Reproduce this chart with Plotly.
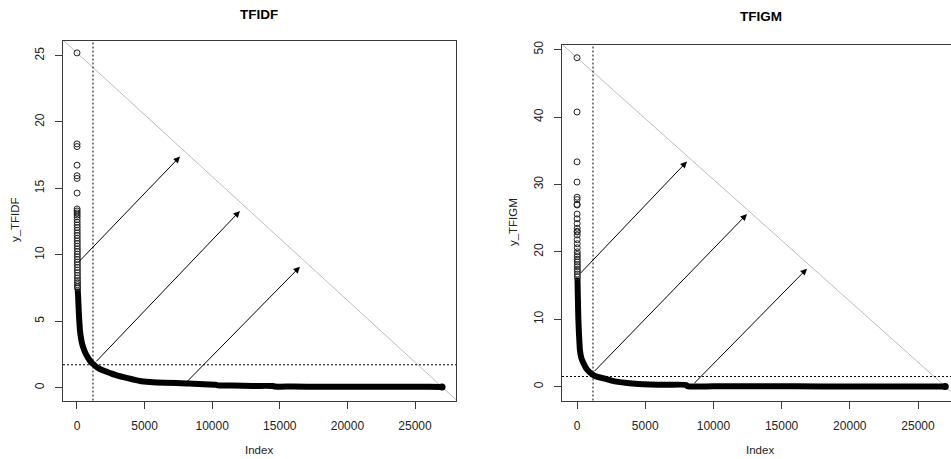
import plotly.graph_objects as go

W, H = 951, 459

# ---------------- data ----------------
# TFIDF: sorted weights, isolated top values (index, value)
tfidf_head_idx = list(range(1, 41))
tfidf_head_val = [25.2, 18.35, 18.15, 16.75, 15.95, 15.75, 14.65, 13.45, 13.3, 13.15,
                  13.0, 12.85, 12.65, 12.45, 12.25, 12.05, 11.85, 11.65, 11.45, 11.25,
                  11.05, 10.85, 10.65, 10.45, 10.25, 10.05, 9.85, 9.65, 9.45, 9.25,
                  9.05, 8.85, 8.65, 8.45, 8.25, 8.05, 7.9, 7.75, 7.6, 7.5]
tfidf_body_idx = [50, 70, 90, 120, 160, 220, 300, 380, 470, 620, 810, 1000, 1200, 1500,
                  1900, 2440, 3000, 3600, 4660, 5400, 6500, 8130, 9000, 10300, 10400,
                  11500, 13000, 14500, 14600, 16000, 18000, 20000, 22000, 24000, 26000, 27000]
tfidf_body_val = [7.45, 7.1, 6.7, 6.0, 5.2, 4.3, 3.7, 3.3, 3.0, 2.6, 2.26, 1.97, 1.77, 1.52,
                  1.3, 1.1, 0.9, 0.75, 0.5, 0.43, 0.37, 0.32, 0.27, 0.21, 0.17,
                  0.16, 0.13, 0.12, 0.08, 0.08, 0.07, 0.07, 0.06, 0.06, 0.06, 0.05]

# TFIGM
tfigm_head_idx = list(range(1, 30))
tfigm_head_val = [48.8, 40.75, 33.35, 30.35, 28.1, 27.75, 27.05, 26.95, 25.6, 24.9,
                  24.2, 23.5, 23.05, 22.95, 22.5, 21.8, 21.2, 20.6, 20.0, 19.6,
                  19.3, 18.9, 18.5, 18.1, 17.8, 17.4, 17.1, 16.7, 16.3]
tfigm_body_idx = [35, 50, 70, 100, 140, 180, 220, 300, 400, 490, 620, 780, 950, 1170,
                  1500, 2050, 2600, 3660, 4500, 5350, 6500, 8000, 8100, 10000, 13000,
                  16000, 20000, 24000, 27000]
tfigm_body_val = [16.2, 14.5, 12.5, 10.0, 8.0, 6.5, 5.3, 4.4, 3.8, 3.4, 2.9, 2.45, 2.1, 1.75,
                  1.45, 1.18, 0.85, 0.55, 0.4, 0.32, 0.28, 0.25, 0.06, 0.05, 0.04,
                  0.04, 0.03, 0.02, 0.02]

# elbow thresholds (vertical / horizontal dotted lines)
tfidf_cut_idx, tfidf_cut_val = 1183, 1.72
tfigm_cut_idx, tfigm_cut_val = 1173, 1.5

# arrows: (start_idx, start_val, end_idx, end_val)
tfidf_arrows = [(20, 9.35, 7620, 17.4), (1330, 1.87, 12050, 13.3), (8060, 0.37, 16490, 9.1)]
tfigm_arrows = [(147, 16.6, 8060, 33.4), (1173, 2.06, 12460, 25.6), (8500, 0.3, 16860, 17.5)]

x_ticks = [0, 5000, 10000, 15000, 20000, 25000]
x_tick_labels = ["0", "5000", "10000", "15000", "20000", "25000"]
tfidf_y_ticks = [0, 5, 10, 15, 20, 25]
tfigm_y_ticks = [0, 10, 20, 30, 40, 50]

# ---------------- figure ----------------
FONT = "Liberation Sans, Arial, sans-serif"
AX = "#3a3a3a"
TXT = "#222222"

fig = go.Figure()

def add_panel(xa, ya, hi, hv, bi, bv, cut_i, cut_v, arrows, xr):
    # reference line from first to last point
    x0, y0 = hi[0], hv[0]
    x1, y1 = bi[-1], bv[-1]
    slope = (y1 - y0) / (x1 - x0)
    lx = [xr[0] - 2000, xr[1] + 2000]
    ly = [y0 + slope * (v - x0) for v in lx]
    fig.add_trace(go.Scatter(x=lx, y=ly, mode="lines", xaxis=xa, yaxis=ya,
                             line=dict(color="#bdbdbd", width=1), hoverinfo="skip"))
    fig.add_trace(go.Scatter(x=bi, y=bv, mode="lines", xaxis=xa, yaxis=ya,
                             line=dict(color="black", width=6, shape="spline", smoothing=0.6)))
    fig.add_trace(go.Scatter(x=[bi[-1]], y=[bv[-1]], mode="markers", xaxis=xa, yaxis=ya,
                             marker=dict(symbol="circle", size=7, color="black")))
    fig.add_trace(go.Scatter(x=hi, y=hv, mode="markers", xaxis=xa, yaxis=ya,
                             marker=dict(symbol="circle-open", size=6, color="#222",
                                         line=dict(width=1))))
    xref = xa
    yref = ya
    fig.add_shape(type="line", xref=xref, yref=yref + " domain", x0=cut_i, x1=cut_i,
                  y0=0, y1=1, line=dict(color="black", width=1, dash="2px,2px"))
    fig.add_shape(type="line", xref=xref + " domain", yref=yref, x0=0, x1=1,
                  y0=cut_v, y1=cut_v, line=dict(color="black", width=1, dash="2px,2px"))
    for (si, sv, ei, ev) in arrows:
        fig.add_annotation(x=ei, y=ev, ax=si, ay=sv, xref=xref, yref=yref,
                           axref=xref, ayref=yref, text="", showarrow=True,
                           arrowhead=2, arrowsize=1.3, arrowwidth=1, arrowcolor="black")

add_panel("x", "y", tfidf_head_idx, tfidf_head_val, tfidf_body_idx, tfidf_body_val,
          tfidf_cut_idx, tfidf_cut_val, tfidf_arrows, [-1035, 28031])
add_panel("x2", "y2", tfigm_head_idx, tfigm_head_val, tfigm_body_idx, tfigm_body_val,
          tfigm_cut_idx, tfigm_cut_val, tfigm_arrows, [-1100, 27418])

axis_common = dict(showgrid=False, zeroline=False, showline=True, linecolor=AX, linewidth=1,
                   ticks="outside", ticklen=7, tickcolor=AX, tickwidth=1,
                   tickfont=dict(family=FONT, size=12, color=TXT))

fig.update_layout(
    width=W, height=H, margin=dict(l=0, r=0, t=0, b=0),
    paper_bgcolor="white", plot_bgcolor="white", showlegend=False,
    xaxis=dict(domain=[63 / W, 456 / W], range=[-1035, 28031], tickvals=x_ticks,
               ticktext=x_tick_labels, mirror=True, ticklabelstandoff=7, **axis_common),
    yaxis=dict(domain=[1 - 400 / H, 1 - 37 / H], range=[-0.97, 26.12], tickvals=tfidf_y_ticks,
               tickangle=-90, mirror=True, ticklabelstandoff=6, **axis_common),
    xaxis2=dict(domain=[562 / W, 1.0], range=[-1100, 27418], tickvals=x_ticks,
                ticktext=x_tick_labels, anchor="y2", mirror=True, ticklabelstandoff=7,
                **axis_common),
    yaxis2=dict(domain=[1 - 400 / H, 1 - 41 / H], range=[-2.06, 50.74], tickvals=tfigm_y_ticks,
                anchor="x2", tickangle=-90, mirror=False, ticklabelstandoff=6, **axis_common),
)

def txt(x, y, s, size, bold=False, angle=0):
    fig.add_annotation(x=x / W, y=1 - y / H, xref="paper", yref="paper", text=s,
                       showarrow=False, textangle=angle, xanchor="center", yanchor="middle",
                       font=dict(family=FONT, size=size, color="black" if bold else TXT))

txt(259, 11, "<b>TFIDF</b>", 13.5, bold=True)
txt(761, 13, "<b>TFIGM</b>", 13.5, bold=True)
txt(259, 450, "Index", 11.5)
txt(760, 450, "Index", 11.5)
txt(15, 218, "y_TFIDF", 11.5, angle=-90)
txt(513, 220, "y_TFIGM", 11.5, angle=-90)

fig.write_html("out.html", config={"displayModeBar": False})
with open("out.html", "r", encoding="utf-8") as f:
    html = f.read()
html = html.replace("<head>", "<head><style>html,body{margin:0;padding:0;overflow:hidden;}</style>", 1)
with open("out.html", "w", encoding="utf-8") as f:
    f.write(html)
